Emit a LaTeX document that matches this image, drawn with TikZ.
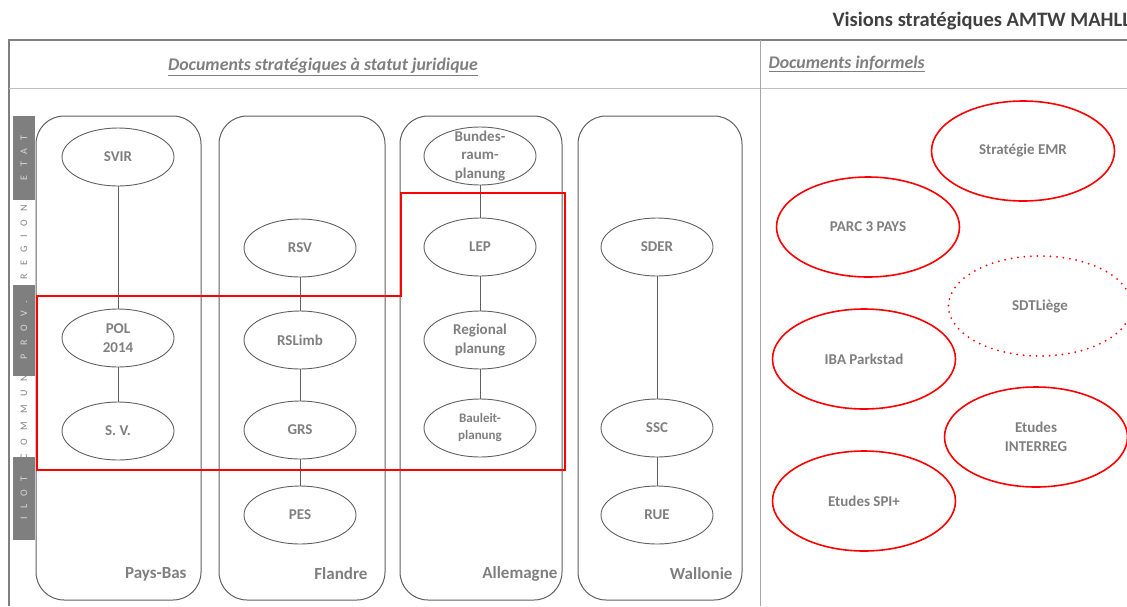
\documentclass[tikz,border=0pt]{standalone}
\usepackage{fontspec}
\setmainfont{Carlito}
\newfontfamily\stripfont[LetterSpace=85]{Carlito}
\usetikzlibrary{shapes.geometric}
\definecolor{texte}{HTML}{7F7F7F}
\definecolor{trait}{HTML}{606060}
\definecolor{cadre}{HTML}{7F7F7F}
\definecolor{titre}{HTML}{404040}
\definecolor{rouge}{HTML}{FF0000}

\begin{document}
\begin{tikzpicture}[x=1pt,y=-1pt,
	textedoc/.style={text=texte,align=center,font=\fontsize{15}{18.5}\selectfont\bfseries},
	doc/.style={ellipse,draw=trait,line width=0.9pt,minimum width=112pt,minimum height=58pt,inner sep=0pt,textedoc},
	informel/.style={ellipse,draw=rouge,line width=1.6pt,minimum width=183pt,minimum height=100pt,inner sep=0pt,textedoc},
	colonne/.style={draw=trait,line width=1pt,rounded corners=28pt,minimum height=484pt},
	pays/.style={anchor=east,text=texte,font=\fontsize{17}{20}\selectfont\bfseries},
	entete/.style={text=texte,font=\fontsize{17.8}{21}\selectfont\bfseries\itshape},
	niveau/.style={rotate=90,font=\fontsize{10}{12}\stripfont},
	lien/.style={draw=trait,line width=1pt}]
\useasboundingbox (0,0) rectangle (1127,606);
\clip (0,0) rectangle (1127,606);

% cadre
\draw[cadre,line width=2.5pt] (9,606) -- (9,40) -- (1127,40);
\draw[black!25,line width=0.8pt] (9,88) -- (1127,88);
\draw[black!35,line width=0.8pt] (760,40) -- (760,606);
\node[anchor=west,text=titre,font=\fontsize{20.5}{24}\selectfont\bfseries] (titre) at (829,21) {Visions stratégiques AMTW MAHLL};
\node[entete] (juridique) at (323,67) {\underline{Documents stratégiques à statut juridique}};
\node[entete,anchor=west] (informels) at (765,64) {\underline{Documents informels}};

% niveaux
\fill[cadre] (13,116) rectangle (35,200);
\fill[cadre] (13,285) rectangle (35,376);
\fill[cadre] (13,457) rectangle (35,540);
\node[niveau,text=white!85!black] (etat) at (24,158) {ETAT};
\node[niveau,text=texte] (region) at (24,242) {REGION};
\node[niveau,text=white!85!black] (prov) at (24,330) {PROV.};
\node[niveau,text=texte] (commun) at (24,417) {COMMUN};
\node[niveau,text=white!85!black] (ilot) at (24,498) {ILOT};

% colonnes
\node[colonne,minimum width=165pt] (paysbas) at (118.5,358) {};
\node[colonne,minimum width=166pt] (flandre) at (302,358) {};
\node[colonne,minimum width=162pt] (allemagne) at (481,358) {};
\node[colonne,minimum width=164pt] (wallonie) at (660,358) {};
\node[pays] (lpaysbas) at (190,574) {Pays-Bas};
\node[pays] (lflandre) at (371,574) {Flandre};
\node[pays] (lallemagne) at (561,574) {Allemagne};
\node[pays] (lwallonie) at (736,574) {Wallonie};

% documents juridiques
\node[doc] (svir) at (118,157) {SVIR};
\node[doc] (pol) at (118,338) {POL\\2014};
\node[doc] (sv) at (118,431) {S. V.};
\node[doc] (rsv) at (300,248) {RSV};
\node[doc] (rslimb) at (300,340) {RSLimb};
\node[doc] (grs) at (300,430) {GRS};
\node[doc] (pes) at (300,515) {PES};
\node[doc,label={[textedoc]center:Bundes-\\raum-\\planung}] (bundes) at (480,156) {};
\node[doc] (lep) at (480,247) {LEP};
\node[doc] (regional) at (480,340) {Regional\\planung};
\node[doc,font=\fontsize{13}{17}\selectfont\bfseries] (bauleit) at (480,428) {Bauleit-\\planung};
\node[doc] (sder) at (657,247) {SDER};
\node[doc] (ssc) at (657,428) {SSC};
\node[doc] (rue) at (657,515) {RUE};

\draw[lien] (svir) -- (pol);
\draw[lien] (pol) -- (sv);
\draw[lien] (rsv) -- (rslimb);
\draw[lien] (rslimb) -- (grs);
\draw[lien] (grs) -- (pes);
\draw[lien] (bundes) -- (lep);
\draw[lien] (lep) -- (regional);
\draw[lien] (regional) -- (bauleit);
\draw[lien] (sder) -- (ssc);
\draw[lien] (ssc) -- (rue);

% zone commune
\draw[rouge,line width=1.6pt] (37,296) -- (401,296) -- (401,193) -- (565,193) -- (565,470) -- (37,470) -- cycle;

% documents informels
\node[informel] (emr) at (1023,151) {Stratégie EMR};
\node[informel] (parc) at (868,227) {PARC 3 PAYS};
\node[informel,draw=none] (sdt) at (1040,306) {SDTLiège};
\draw[rouge,line width=2pt,line cap=round,dash pattern=on 0pt off 6.5pt] (sdt.center) ellipse (91.5 and 50);
\node[informel] (iba) at (864,359) {IBA Parkstad};
\node[informel] (interreg) at (1036,437) {Etudes\\INTERREG};
\node[informel] (spi) at (864,501) {Etudes SPI+};
\end{tikzpicture}
\end{document}
